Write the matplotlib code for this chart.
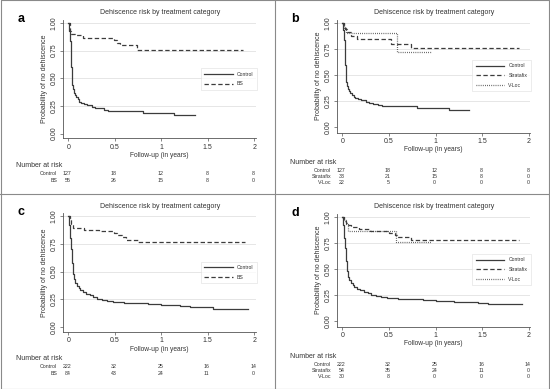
import numpy as np
import matplotlib
matplotlib.use('Agg')
import matplotlib.pyplot as plt
from matplotlib.lines import Line2D

plt.rcParams['font.family'] = ['Liberation Sans', 'DejaVu Sans']

# ---- data ----
# control group, 127 patients (panels a, b)
ctrl127_t = [0, 0.012, 0.018, 0.024, 0.03, 0.036, 0.042, 0.05, 0.06, 0.07, 0.085, 0.10,
             0.12, 0.14, 0.17, 0.20, 0.25, 0.29, 0.33, 0.38, 0.43, 0.80, 1.14, 1.36]
ctrl127_s = [1.0, 0.93, 0.84, 0.72, 0.60, 0.50, 0.44, 0.40, 0.37, 0.35, 0.33, 0.31,
             0.29, 0.28, 0.27, 0.26, 0.245, 0.235, 0.228, 0.218, 0.203, 0.188, 0.168, 0.168]
# barbed suture, 55 patients (panel a)
bs55_t = [0, 0.015, 0.03, 0.07, 0.16, 0.49, 0.52, 0.56, 0.74, 1.88]
bs55_s = [1.0, 0.93, 0.905, 0.89, 0.868, 0.845, 0.82, 0.80, 0.757, 0.757]
# panel b
strat33_t = [0, 0.015, 0.03, 0.05, 0.09, 0.16, 0.52, 0.74, 1.89]
strat33_s = [1.0, 0.97, 0.94, 0.91, 0.88, 0.848, 0.80, 0.757, 0.757]
vloc22_t = [0, 0.02, 0.035, 0.59, 0.96]
vloc22_s = [1.0, 0.955, 0.909, 0.727, 0.727]
# control group, 222 patients (panels c, d)
ctrl222_t = [0, 0.012, 0.02, 0.03, 0.04, 0.05, 0.06, 0.075, 0.09, 0.11, 0.13, 0.16, 0.19,
             0.23, 0.27, 0.31, 0.36, 0.42, 0.48, 0.60, 0.73, 0.86, 1.0, 1.1, 1.2, 1.31,
             1.45, 1.56, 1.93]
ctrl222_s = [1.0, 0.92, 0.80, 0.70, 0.58, 0.48, 0.43, 0.40, 0.37, 0.35, 0.33, 0.315, 0.30,
             0.285, 0.27, 0.255, 0.245, 0.235, 0.226, 0.22, 0.213, 0.207, 0.20, 0.195, 0.19,
             0.183, 0.178, 0.165, 0.165]
bs84_t = [0, 0.015, 0.03, 0.05, 0.17, 0.33, 0.49, 0.52, 0.58, 0.62, 0.75, 1.90]
bs84_s = [1.0, 0.964, 0.93, 0.893, 0.877, 0.866, 0.845, 0.83, 0.81, 0.79, 0.77, 0.77]
strat54_t = [0, 0.02, 0.04, 0.06, 0.09, 0.18, 0.30, 0.50, 0.56, 0.59, 0.74, 1.89]
strat54_s = [1.0, 0.963, 0.944, 0.925, 0.906, 0.888, 0.869, 0.85, 0.83, 0.81, 0.78, 0.78]
vloc30_t = [0, 0.02, 0.04, 0.065, 0.58, 0.95]
vloc30_s = [1.0, 0.967, 0.933, 0.867, 0.757, 0.757]

risk_times = [0, 0.5, 1, 1.5, 2]
risk_a = {'Control': [127, 18, 12, 8, 8], 'BS': [55, 26, 15, 8, 0]}
risk_b = {'Control': [127, 18, 12, 8, 8], 'Stratafix': [33, 21, 15, 8, 0],
          'V-Loc': [22, 5, 0, 0, 0]}
risk_c = {'Control': [222, 32, 25, 16, 14], 'BS': [84, 43, 24, 11, 0]}
risk_d = {'Control': [222, 32, 25, 16, 14], 'Stratafix': [54, 35, 24, 11, 0],
          'V-Loc': [30, 8, 0, 0, 0]}

title = 'Dehiscence risk by treatment category'
W, H = 550, 389
line_col = '#3c3c3c'
styles = {'Control': '-', 'BS': (0, (3.5, 2)), 'Stratafix': (0, (3.5, 2)),
          'V-Loc': (0, (0.6, 1.1))}

fig = plt.figure(figsize=(W / 100, H / 100), dpi=100)


def rect(l, r, t, b):
    return [l / W, 1 - b / H, (r - l) / W, (b - t) / H]


def panel(letter, box, xlim, ylim, curves, risk, leg_y, row_offs):
    ax = fig.add_axes(rect(*box))
    for name, t, s in curves:
        ax.plot(t, s, drawstyle='steps-post', color=line_col, lw=0.9,
                linestyle=styles[name], label=name)
    ax.set_xlim(*xlim)
    ax.set_ylim(*ylim)
    for sp in ['top', 'right']:
        ax.spines[sp].set_visible(False)
    for sp in ['left', 'bottom']:
        ax.spines[sp].set_linewidth(0.6)
        ax.spines[sp].set_color('#555555')
    ax.set_xticks(risk_times)
    ax.set_xticklabels(['0', '0.5', '1', '1.5', '2'])
    ax.set_yticks([0, 0.25, 0.5, 0.75, 1.0])
    ax.set_yticklabels(['0.00', '0.25', '0.50', '0.75', '1.00'], rotation=90, va='center')
    ax.tick_params(length=2.5, width=0.5, color='#555555', labelsize=5, pad=1.5,
                   labelcolor='#333333')
    for yv in [0.25, 0.5, 0.75, 1.0]:
        ax.axhline(yv, color='#e6e6e6', lw=0.7, zorder=0)
    ax.set_title(title, fontsize=5, pad=4, color='#333333')
    ax.set_xlabel('Follow-up (in years)', fontsize=4.8, labelpad=1, color='#333333')
    ax.set_ylabel('Probability of no dehiscence', fontsize=5, labelpad=2, color='#333333')
    leg = ax.legend(loc='center right', bbox_to_anchor=(1.005, leg_y), fontsize=3.7,
                    frameon=True, fancybox=False, handlelength=5.5, handletextpad=0.8,
                    borderpad=0.7, labelspacing=0.9, borderaxespad=0)
    leg.get_frame().set_edgecolor('#dddddd')
    leg.get_frame().set_linewidth(0.5)
    for txt in leg.get_texts():
        txt.set_color('#333333')

    # number at risk table
    ax.annotate('Number at risk', xy=(-0.565, 0), xycoords=('data', 'axes fraction'),
                xytext=(0, row_offs[0]), textcoords='offset pixels', fontsize=5,
                ha='left', va='center', color='#333333', annotation_clip=False)
    for k, (name, vals) in enumerate(risk.items()):
        off = row_offs[k + 1]
        ax.annotate(name, xy=(-0.12, 0), xycoords=('data', 'axes fraction'),
                    xytext=(0, off), textcoords='offset pixels', fontsize=3.8,
                    ha='right', va='center', color='#333333', annotation_clip=False)
        for tx, v in zip(risk_times, vals):
            ax.annotate(str(v), xy=(tx, 0), xycoords=('data', 'axes fraction'),
                        xytext=(-1, off), textcoords='offset pixels', fontsize=3.8,
                        ha='center', va='center', color='#333333', annotation_clip=False)
    fig.text((box[0] - 46) / W, 1 - (box[2] - 1) / H, letter, fontsize=9,
             fontweight='bold', ha='left', va='center')
    return ax


panel('a', (63.3, 256, 20, 138.3), (-0.054, 2.018), (-0.042, 1.027),
      [('Control', ctrl127_t, ctrl127_s), ('BS', bs55_t, bs55_s)],
      risk_a, 0.50, [-27, -35, -42])
panel('b', (337.3, 530, 20, 132.5), (-0.054, 2.013), (-0.048, 1.029),
      [('Control', ctrl127_t, ctrl127_s), ('Stratafix', strat33_t, strat33_s),
       ('V-Loc', vloc22_t, vloc22_s)],
      risk_b, 0.507, [-30.5, -37.5, -43.5, -49.5])
panel('c', (63.3, 256, 213.3, 331.6), (-0.054, 2.018), (-0.042, 1.027),
      [('Control', ctrl222_t, ctrl222_s), ('BS', bs84_t, bs84_s)],
      risk_c, 0.50, [-27, -35, -42])
panel('d', (337.3, 530, 214, 326.5), (-0.054, 2.013), (-0.048, 1.029),
      [('Control', ctrl222_t, ctrl222_s), ('Stratafix', strat54_t, strat54_s),
       ('V-Loc', vloc30_t, vloc30_s)],
      risk_d, 0.507, [-30.5, -37.5, -43.5, -49.5])

# panel borders
bcol = '#8a8a8a'
fig.add_artist(Line2D([275 / W, 275 / W], [0, 1], color=bcol, lw=0.8))
fig.add_artist(Line2D([0, 1], [1 - 193.5 / H, 1 - 193.5 / H], color=bcol, lw=0.8))
fig.add_artist(Line2D([0.001, 0.999, 0.999, 0.001, 0.001],
                      [0.001, 0.001, 0.999, 0.999, 0.001], color=bcol, lw=0.8))

fig.savefig('out.png', dpi=100)
